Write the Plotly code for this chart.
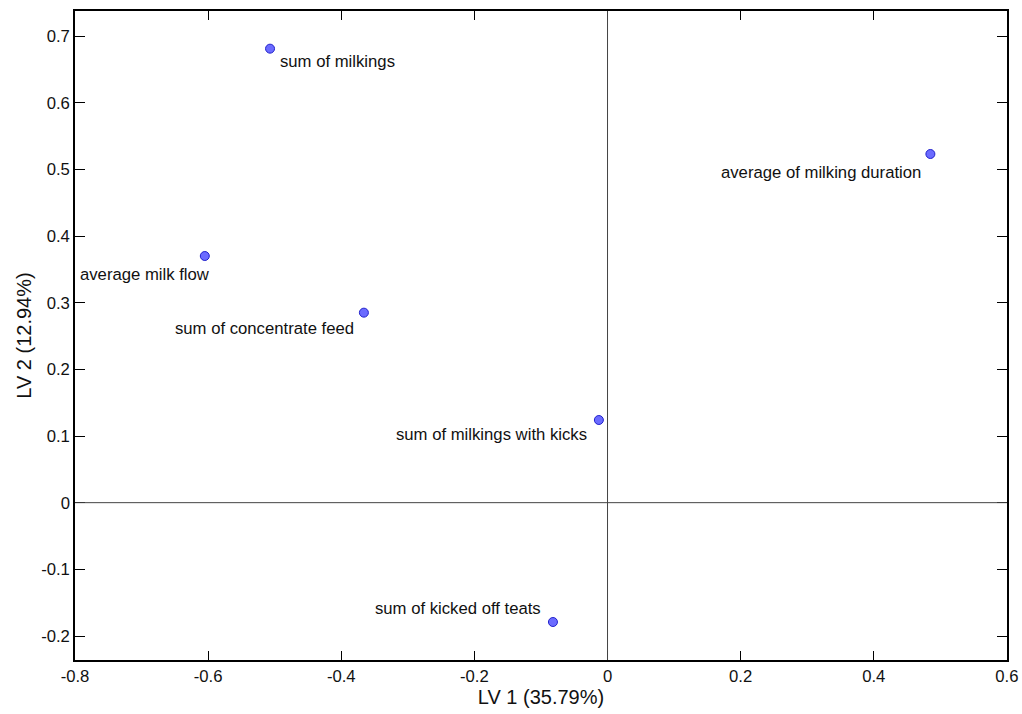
import plotly.graph_objects as go

names = ["sum of milkings", "average of milking duration", "average milk flow",
         "sum of concentrate feed", "sum of milkings with kicks", "sum of kicked off teats"]
lv1 = [-0.507, 0.485, -0.605, -0.366, -0.013, -0.082]
lv2 = [0.681, 0.523, 0.370, 0.285, 0.124, -0.179]

xticks = [-0.8, -0.6, -0.4, -0.2, 0, 0.2, 0.4, 0.6]
xticktext = ["-0.8", "-0.6", "-0.4", "-0.2", "0", "0.2", "0.4", "0.6"]
yticks = [-0.2, -0.1, 0, 0.1, 0.2, 0.3, 0.4, 0.5, 0.6, 0.7]
yticktext = ["-0.2", "-0.1", "0", "0.1", "0.2", "0.3", "0.4", "0.5", "0.6", "0.7"]

# label placement styles (anchor, x shift, y shift in px)
label_style = [("left", 8, -13), ("right", -7, -18), ("right", 7, -18),
               ("right", -8, -16), ("right", -10, -14), ("right", -10, 14)]

FONT = "Liberation Sans, Arial, sans-serif"
TXT = "#111111"

fig = go.Figure()
fig.add_trace(go.Scatter(
    x=lv1, y=lv2, mode="markers",
    marker=dict(size=9, color="#6b6bff", line=dict(color="#2222cc", width=1)),
    hoverinfo="text", text=names, showlegend=False))

for n, xv, yv, (anc, dx, dy) in zip(names, lv1, lv2, label_style):
    fig.add_annotation(x=xv, y=yv, xref="x", yref="y", text=n, showarrow=False,
                       xanchor=anc, yanchor="middle", xshift=dx, yshift=dy,
                       font=dict(family=FONT, size=16.7, color=TXT))

fig.add_shape(type="line", xref="x", yref="paper", x0=0, x1=0, y0=0, y1=1,
              line=dict(color="#444444", width=1))
fig.add_shape(type="line", xref="paper", yref="y", x0=0, x1=1, y0=0, y1=0,
              line=dict(color="#444444", width=1))

axis_common = dict(showline=True, linecolor="black", linewidth=1.5, mirror="ticks",
                   ticks="inside", tickcolor="black", showgrid=False, automargin=False,
                   zeroline=False, tickfont=dict(family=FONT, size=16.7, color=TXT),
                   ticklabeloverflow="allow")

fig.update_xaxes(range=[-0.8, 0.6001], tickvals=xticks, ticktext=xticktext, ticklen=9,
                 title=dict(text="LV 1 (35.79%)", font=dict(family=FONT, size=20, color=TXT), standoff=2),
                 ticklabelstandoff=0, **axis_common)
fig.update_yaxes(range=[-0.236, 0.7375], tickvals=yticks, ticktext=yticktext, ticklen=10,
                 title=dict(text="LV 2 (12.94%)", font=dict(family=FONT, size=20, color=TXT), standoff=4),
                 ticklabelstandoff=0, **axis_common)

fig.update_layout(width=1022, height=714, margin=dict(l=75, r=15, t=11, b=54),
                  plot_bgcolor="white", paper_bgcolor="white")

fig.write_html("out.html", config={"displayModeBar": False},
               post_script="document.body.style.margin='0';document.body.style.overflow='hidden';")
